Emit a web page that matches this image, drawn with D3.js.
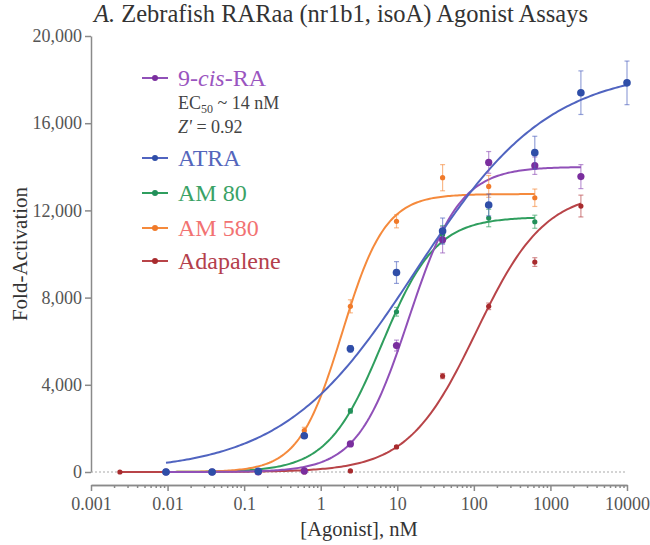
<html lang="en">
  <head>
    <meta charset="UTF-8">
    <title>Zebrafish RARaa Agonist Assays</title>
    <script src="https://d3js.org/d3.v7.min.js"></script>
    <style>
body, html {
  margin: 0;
  padding: 0;
  width: 100%;
  height: 100%;
  background: white;
  overflow: hidden;
}
    svg {
      display: block;
    }
    svg text {
      font-family: "Liberation Serif", serif;
    }
    .axis path, .axis line {
      stroke: #8a8a8a;
      stroke-width: 1.5;
    }
    .axis text {
      fill: #555;
      font-size: 18px;
    }
    </style>
  </head>
  <body>
    <svg width="650" height="545"></svg>

    <script>
      // 4-fold dilution series, nM
      const doses = [0.002384, 0.009537, 0.03815, 0.1526, 0.6104, 2.441, 9.766, 39.06, 156.25, 625, 2500, 10000];

      const seriesNames = ["9-cis-RA", "ATRA", "AM 80", "AM 580", "Adapalene"];

      // mean fold-activation at each dose (null = not tested)
      const cisRA     = [null, 0, 0, 0, 50, 1290, 5800, 10650, 14200, 14050, 13550, null];
      const atra      = [null, 0, 0, 30, 1660, 5650, 9150, 11050, 12250, 14650, 17400, 17850];
      const am80      = [null, 0, 0, 0, 60, 2800, 7350, 10900, 11650, 11480, null, null];
      const am580     = [null, 0, 0, 30, 1900, 7600, 11500, 13500, 13100, 12580, null, null];
      const adapalene = [0, 0, 0, 0, 0, 50, 1150, 4400, 7600, 9630, 12200, null];

      // error bars (SEM)
      const cisRAErr     = [0, 0, 0, 0, 60, 100, 250, 600, 500, 400, 550, 0];
      const atraErr      = [0, 0, 0, 0, 100, 150, 500, 600, 500, 750, 1000, 1000];
      const am80Err      = [0, 0, 0, 0, 40, 100, 200, 400, 400, 300, 0, 0];
      const am580Err     = [0, 0, 0, 0, 150, 300, 300, 600, 500, 400, 0, 0];
      const adapaleneErr = [0, 0, 0, 0, 0, 30, 60, 120, 150, 200, 500, 0];

      // fitted curve parameters: top, EC50 (nM), hill slope, fit range
      const fitTop   = [14000, 18500, 11700, 12750, 12900];
      const fitEC50  = [14, 17.6, 6.27, 1.9, 108];
      const fitHill  = [1.3, 0.5, 1.23, 1.54, 0.97];
      const fitFrom  = [0.009537, 0.009537, 0.009537, 0.009537, 0.002384];
      const fitTo    = [2500, 10000, 625, 625, 2500];

      const yTicks = [0, 4000, 8000, 12000, 16000, 20000];
      const xTicks = [0.001, 0.01, 0.1, 1, 10, 100, 1000, 10000];

      const lineColors   = ["#9050b8", "#5064c0", "#2f9e5e", "#f58a3c", "#b84448"];
      const markerColors = ["#7a2e9e", "#2f4ea8", "#22905a", "#f07a2a", "#a82b2e"];
      const textColors   = ["#9a55c0", "#5466bc", "#3aa266", "#f27272", "#b4404c"];
      const markerSize   = [3.6, 3.8, 2.6, 2.6, 2.6];

      const values = [cisRA, atra, am80, am580, adapalene];
      const errors = [cisRAErr, atraErr, am80Err, am580Err, adapaleneErr];

      const svg = d3.select("svg");
      const plotLeft = 91, plotRight = 627, plotTop = 36, plotBottom = 472;

      const x = d3.scaleLog().domain([0.001, 10000]).range([plotLeft, plotRight]);
      const y = d3.scaleLinear().domain([0, 20000]).range([plotBottom, plotTop]);

      // title
      const title = svg.append("text")
        .attr("x", 341).attr("y", 22)
        .attr("text-anchor", "middle")
        .attr("font-size", 24.5)
        .attr("fill", "#333");
      title.append("tspan").attr("font-style", "italic").text("A.");
      title.append("tspan").text(" Zebrafish RARaa (nr1b1, isoA) Agonist Assays");

      // y axis
      svg.append("g")
        .attr("class", "axis")
        .attr("transform", `translate(${plotLeft},0)`)
        .call(d3.axisLeft(y).tickValues(yTicks).tickFormat(d3.format(",")).tickSize(6).tickSizeOuter(0));

      svg.append("text")
        .attr("transform", `translate(27,${(plotTop + plotBottom) / 2}) rotate(-90)`)
        .attr("text-anchor", "middle")
        .attr("font-size", 21)
        .attr("fill", "#333")
        .text("Fold-Activation");

      // x axis, offset below the plot
      const minor = [];
      xTicks.slice(0, -1).forEach(t => { for (let k = 2; k < 10; k++) minor.push(t * k); });

      svg.append("g")
        .attr("class", "axis")
        .attr("transform", "translate(0,485)")
        .call(d3.axisBottom(x).tickValues(minor).tickFormat("").tickSize(3).tickSizeOuter(0));

      svg.append("g")
        .attr("class", "axis")
        .attr("transform", "translate(0,485)")
        .call(d3.axisBottom(x).tickValues(xTicks).tickFormat(d => String(d)).tickSize(6).tickSizeOuter(0))
        .selectAll("text").attr("dy", "0.9em");

      svg.append("text")
        .attr("x", (plotLeft + plotRight) / 2).attr("y", 536)
        .attr("text-anchor", "middle")
        .attr("font-size", 20.5)
        .attr("fill", "#333")
        .text("[Agonist], nM");

      // dotted zero line
      svg.append("line")
        .attr("x1", plotLeft).attr("x2", plotRight)
        .attr("y1", y(0)).attr("y2", y(0))
        .attr("stroke", "#aaa")
        .attr("stroke-width", 1.2)
        .attr("stroke-dasharray", "2,2");

      const line = d3.line().x(d => x(d[0])).y(d => y(d[1]));

      const draw = [4, 2, 3, 0, 1];
      draw.forEach(i => {
        const lo = Math.log10(fitFrom[i]), hi = Math.log10(fitTo[i]);
        const pts = d3.range(0, 201).map(k => {
          const d = Math.pow(10, lo + (hi - lo) * k / 200);
          return [d, fitTop[i] / (1 + Math.pow(fitEC50[i] / d, fitHill[i]))];
        });
        svg.append("path")
          .attr("d", line(pts))
          .attr("fill", "none")
          .attr("stroke", lineColors[i])
          .attr("stroke-width", 2);
      });

      draw.forEach(i => {
        const pts = doses.map((d, j) => ({ d, v: values[i][j], e: errors[i][j] })).filter(p => p.v !== null);
        const g = svg.append("g");
        const bars = pts.filter(p => p.e > 0);
        g.selectAll("line.err")
          .data(bars).join("line")
          .attr("class", "err")
          .attr("x1", p => x(p.d)).attr("x2", p => x(p.d))
          .attr("y1", p => y(p.v - p.e)).attr("y2", p => y(p.v + p.e))
          .attr("stroke", lineColors[i]).attr("stroke-opacity", 0.6).attr("stroke-width", 1.2);
        g.selectAll("line.cap")
          .data(bars.flatMap(p => [[p.d, p.v - p.e], [p.d, p.v + p.e]])).join("line")
          .attr("class", "cap")
          .attr("x1", p => x(p[0]) - 2.5).attr("x2", p => x(p[0]) + 2.5)
          .attr("y1", p => y(p[1])).attr("y2", p => y(p[1]))
          .attr("stroke", lineColors[i]).attr("stroke-opacity", 0.6).attr("stroke-width", 1.2);
        g.selectAll("circle")
          .data(pts).join("circle")
          .attr("cx", p => x(p.d)).attr("cy", p => y(p.v))
          .attr("r", markerSize[i])
          .attr("fill", markerColors[i]);
      });

      // legend
      const legendY = [78, 158, 193, 228, 261];
      seriesNames.forEach((name, i) => {
        const ly = legendY[i];
        svg.append("line")
          .attr("x1", 142).attr("x2", 168).attr("y1", ly).attr("y2", ly)
          .attr("stroke", lineColors[i]).attr("stroke-width", 2);
        svg.append("circle")
          .attr("cx", 155).attr("cy", ly).attr("r", 3)
          .attr("fill", markerColors[i]);
        const t = svg.append("text")
          .attr("x", 178).attr("y", ly + 8)
          .attr("font-size", 24)
          .attr("fill", textColors[i]);
        if (i === 0) {
          t.append("tspan").text("9-");
          t.append("tspan").attr("font-style", "italic").text("cis");
          t.append("tspan").text("-RA");
        } else {
          t.text(name);
        }
      });

      const ec = svg.append("text").attr("x", 178).attr("y", 109).attr("font-size", 18).attr("fill", "#444");
      ec.append("tspan").text("EC");
      ec.append("tspan").attr("font-size", 12).attr("dy", 4).text("50");
      ec.append("tspan").attr("dy", -4).text(" ~ 14 nM");

      const zp = svg.append("text").attr("x", 178).attr("y", 133).attr("font-size", 18).attr("fill", "#444");
      zp.append("tspan").attr("font-style", "italic").text("Z'");
      zp.append("tspan").text(" = 0.92");
    </script>
  </body>
</html>
